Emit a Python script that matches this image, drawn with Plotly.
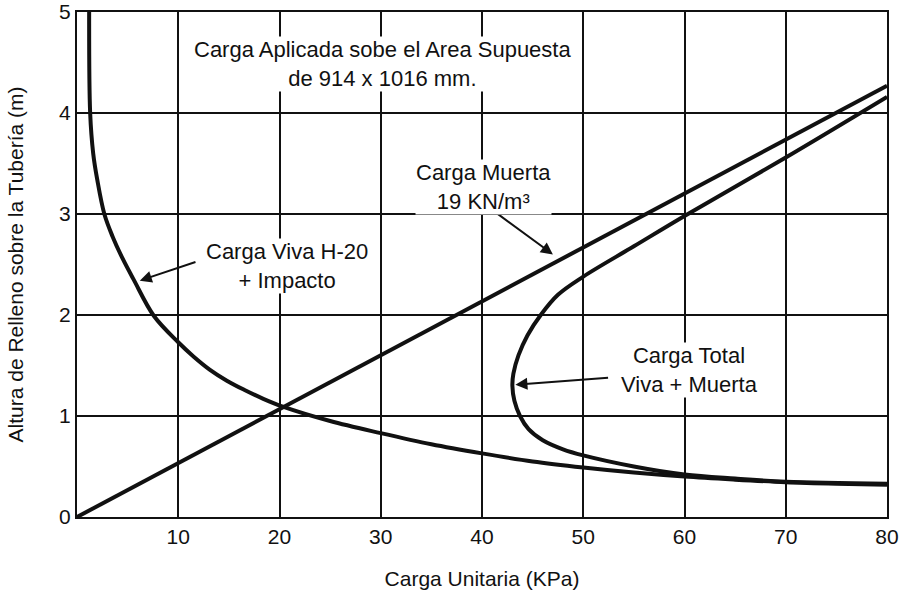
import plotly.graph_objects as go

# --- data ---
live_x = [1.2, 1.3, 1.6, 2.0, 2.7, 3.5, 4.5, 5.6, 7.6, 10, 11.5, 13.1, 14.8, 16.5, 18.4, 20.4, 25, 30, 35, 40, 45, 50, 55, 60, 65, 70, 75, 80]
live_y = [5.0, 4.0, 3.6, 3.34, 3.0, 2.78, 2.56, 2.35, 1.99, 1.73, 1.59, 1.46, 1.35, 1.26, 1.17, 1.09, 0.95, 0.83, 0.72, 0.63, 0.55, 0.49, 0.44, 0.40, 0.37, 0.345, 0.33, 0.32]

dead_x = [0, 80]
dead_y = [0, 4.27]

total_x = [80, 70, 60, 55, 50, 47.5, 45.8, 44.5, 43.6, 43.1, 43.0, 43.2, 43.75, 44.6, 46.0, 48.0, 50, 55, 60, 65, 70, 80]
total_y = [4.16, 3.56, 2.98, 2.68, 2.38, 2.2, 2.0, 1.8, 1.6, 1.42, 1.3, 1.15, 1.0, 0.87, 0.76, 0.67, 0.61, 0.5, 0.42, 0.38, 0.35, 0.33]

x_ticks = [10, 20, 30, 40, 50, 60, 70, 80]
y_ticks = [0, 1, 2, 3, 4, 5]

FONT = "Liberation Sans, Arial, sans-serif"
INK = "#111111"

fig = go.Figure()
line_style = dict(color=INK, width=4)
fig.add_trace(go.Scatter(x=live_x, y=live_y, mode="lines", line=dict(shape="spline", smoothing=1.0, **line_style), hoverinfo="skip"))
fig.add_trace(go.Scatter(x=dead_x, y=dead_y, mode="lines", line=line_style, hoverinfo="skip"))
fig.add_trace(go.Scatter(x=total_x, y=total_y, mode="lines", line=dict(shape="spline", smoothing=1.0, **line_style), hoverinfo="skip"))

# arrows: (tip_x, tip_y, tail_x, tail_y)
arrows = [
    (6.2, 2.34, 11.85, 2.53),
    (47.0, 2.60, 41.3, 3.02),
    (43.3, 1.31, 52.6, 1.38),
]
for tx, ty, sx, sy in arrows:
    fig.add_annotation(x=tx, y=ty, ax=sx, ay=sy, xref="x", yref="y", axref="x", ayref="y",
                       text="", showarrow=True, arrowhead=2, arrowsize=1.2, arrowwidth=2, arrowcolor=INK)

labels = [
    (30.2, 4.49, "Carga Aplicada sobe el Area Supuesta<br>de 914 x 1016 mm."),
    (20.7, 2.49, "Carga Viva H-20<br>+ Impacto"),
    (40.1, 3.27, "Carga Muerta<br>19 KN/m³"),
    (60.5, 1.46, "Carga Total<br>Viva + Muerta"),
]
for x, y, t in labels:
    fig.add_annotation(x=x, y=y, xref="x", yref="y", text=t, showarrow=False,
                       font=dict(family=FONT, size=22, color=INK), bgcolor="white",
                       align="center", borderpad=0)

axis_common = dict(showgrid=True, gridcolor=INK, gridwidth=2, showline=True, linecolor=INK,
                   linewidth=2, mirror=True, zeroline=False, ticks="",
                   tickfont=dict(family=FONT, size=21, color=INK))

fig.update_layout(
    width=902, height=594,
    margin=dict(l=77, r=15, t=12, b=77, autoexpand=False),
    paper_bgcolor="white", plot_bgcolor="white",
    showlegend=False,
    xaxis=dict(range=[0, 80], tickvals=x_ticks, ticktext=[str(v) for v in x_ticks],
               title=dict(text="Carga Unitaria (KPa)", font=dict(family=FONT, size=21, color=INK), standoff=24),
               **axis_common),
    yaxis=dict(range=[0, 5], tickvals=y_ticks, ticktext=[str(v) for v in y_ticks],
               title=dict(text="Altura de Relleno sobre la Tubería (m)", font=dict(family=FONT, size=21, color=INK), standoff=30),
               **axis_common),
)

fig.write_html("out.html", config={"displayModeBar": False},
               post_script="document.body.style.margin='0';document.body.style.overflow='hidden';")
